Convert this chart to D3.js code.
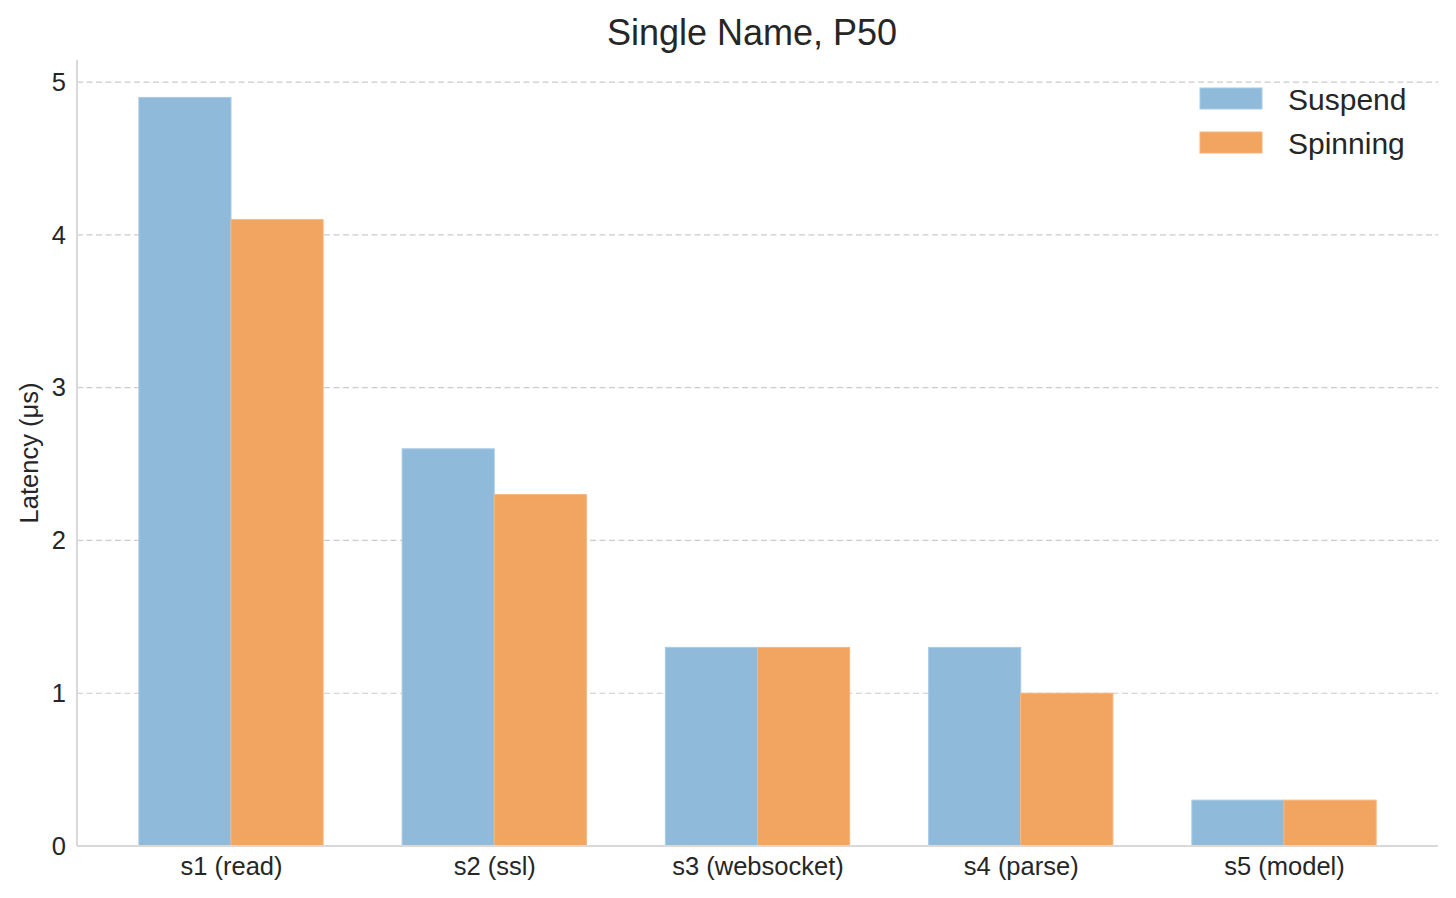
<!DOCTYPE html>
<html>
<head>
<meta charset="utf-8">
<script src="https://cdn.jsdelivr.net/npm/d3@7"></script>
<style>
  body { margin: 0; background: #fff; }
  text { font-family: "Liberation Sans", Arial, sans-serif; fill: #262626; }
</style>
</head>
<body>
<script>
const width = 1456,
    height = 898;

// data
const stages = ["s1 (read)", "s2 (ssl)", "s3 (websocket)", "s4 (parse)", "s5 (model)"];
const suspend = [4.9, 2.6, 1.3, 1.3, 0.3];
const spinning = [4.1, 2.3, 1.3, 1.0, 0.3];
const yTicks = [0, 1, 2, 3, 4, 5];
const seriesNames = ["Suspend", "Spinning"];
const seriesColors = ["#8fbad9", "#f2a461"];
const edgeColors = ["#a8cbe6", "#f7b47c"];

const margin = {top: 60, right: 18, bottom: 52, left: 77};
const barW = 0.35;

const x = d3.scaleLinear()
    .domain([-0.585, stages.length - 1 + 0.585])
    .range([margin.left, width - margin.right]);

const y = d3.scaleLinear()
    .domain([0, 4.9 * 1.05])
    .range([height - margin.bottom, margin.top]);

const svg = d3.select("body").append("svg")
    .attr("width", width)
    .attr("height", height);

// grid
svg.append("g")
    .selectAll("line")
    .data(yTicks)
    .enter().append("line")
    .attr("x1", margin.left)
    .attr("x2", width - margin.right)
    .attr("y1", d => y(d))
    .attr("y2", d => y(d))
    .attr("stroke", "#cccccc")
    .attr("stroke-width", 1.2)
    .attr("stroke-dasharray", "6,3.5");

// bars
const series = [suspend, spinning];
series.forEach(function (vals, si) {
    svg.append("g")
        .selectAll("rect")
        .data(vals)
        .enter().append("rect")
        .attr("x", (d, i) => x(i + (si - 1) * barW))
        .attr("width", x(barW) - x(0))
        .attr("y", d => y(d))
        .attr("height", d => y(0) - y(d))
        .attr("fill", seriesColors[si])
        .attr("stroke", edgeColors[si])
        .attr("stroke-width", 1);
});

// axes
const yAxis = svg.append("g")
    .attr("transform", `translate(${margin.left},0)`)
    .call(d3.axisLeft(y).tickValues(yTicks).tickFormat(d3.format("d"))
        .tickSize(0).tickPadding(11));

const xAxis = svg.append("g")
    .attr("transform", `translate(0,${height - margin.bottom})`)
    .call(d3.axisBottom(x).tickValues(d3.range(stages.length))
        .tickFormat(i => stages[i]).tickSize(0).tickPadding(11));

[xAxis, yAxis].forEach(function (ax) {
    ax.select(".domain").attr("stroke", "#d9d9d9").attr("stroke-width", 2);
    ax.selectAll("text")
        .style("font-size", "25.5px")
        .style("font-family", "'Liberation Sans', Arial, sans-serif")
        .attr("fill", "#262626");
});
xAxis.select(".domain").attr("d", `M${margin.left},0H${width - margin.right}`);
yAxis.select(".domain").attr("d", `M0,${height - margin.bottom}V${margin.top}`);

// y label
svg.append("text")
    .attr("transform", `translate(38,${(margin.top + height - margin.bottom) / 2}) rotate(-90)`)
    .attr("text-anchor", "middle")
    .style("font-size", "25.5px")
    .text("Latency (μs)");

// title
svg.append("text")
    .attr("x", 752)
    .attr("y", 45)
    .attr("text-anchor", "middle")
    .style("font-size", "36px")
    .text("Single Name, P50");

// legend
const legend = svg.append("g")
    .attr("transform", "translate(1200,88)");

seriesNames.forEach(function (name, i) {
    legend.append("rect")
        .attr("x", 0)
        .attr("y", i * 44)
        .attr("width", 62)
        .attr("height", 21)
        .attr("fill", seriesColors[i])
        .attr("stroke", edgeColors[i]);
    legend.append("text")
        .attr("x", 88)
        .attr("y", i * 44 + 22)
        .style("font-size", "30px")
        .text(name);
});
</script>
</body>
</html>
